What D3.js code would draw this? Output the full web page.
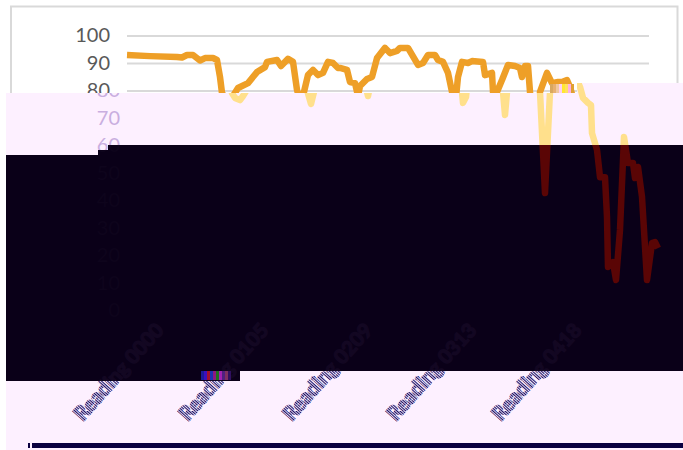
<!DOCTYPE html>
<html>
<head>
<meta charset="utf-8">
<title>Chart</title>
<script src="https://cdn.jsdelivr.net/npm/d3@7"></script>
<style>
	html, body { margin: 0; padding: 0; background: #fff; overflow: hidden; }
	svg { display: block; }
</style>
</head>
<body>
<svg id="svgChart" width="683" height="450"></svg>
<script>
// Reading number along the x axis and the value
var readings = [0, 23, 50, 55, 60, 66, 73, 78, 86, 90, 93, 95, 98, 103, 106, 111, 121, 130, 138, 140,
	150, 154, 161, 166, 170, 174, 177, 181, 186, 191, 196, 201, 206, 211, 213, 220, 223, 228, 231, 233,
	240, 245, 250, 258, 263, 270, 273, 281, 291, 296, 301, 308, 311, 316, 321, 325, 326, 329, 331, 335,
	341, 345, 356, 358, 365, 366, 368, 370, 375, 381, 388, 393, 395, 398, 401, 403, 408, 413, 420, 425,
	431, 435, 440, 443, 446, 451, 454, 455, 460, 463, 468, 470, 471, 476, 479, 483, 487, 491, 496, 498,
	501, 505, 510, 515, 518, 521];
var values = [92.9, 92.5, 92.2, 92, 92.9, 92.9, 90.9, 91.8, 91.8, 91.1, 84.9, 79.1, 77.3, 76.5, 78, 80.9, 82.7, 86.7, 88.5, 90.4,
	91.1, 88.9, 91.5, 90.4, 80.2, 75.1, 79.5, 85.6, 87.5, 85.6, 86.4, 90.4, 90, 88.2, 88.2, 87.5, 83.1, 82.7, 78, 81.6,
	84.2, 84.9, 91.8, 95.5, 93.6, 94.4, 95.5, 95.5, 89.3, 90, 92.9, 92.9, 91.1, 90.4, 86.4, 79.5, 75.5, 77.6, 84.9, 90.4,
	90, 90.7, 90.4, 85.6, 86.4, 79.5, 71.1, 79.5, 83.8, 89.3, 88.9, 88.2, 84.9, 88.9, 88.9, 79.5, 42.7, 79.5, 86.4, 82.7,
	83.1, 83.1, 83.8, 81.3, 77.3, 75.5, 74.7, 64.5, 58.4, 48.5, 48.5, 34, 15.8, 17.6, 11.1, 29.3, 63.1, 53.6, 53.6, 48.2,
	52.2, 41.3, 11.1, 24.5, 24.9, 22.7];

var yTicks = [0, 10, 20, 30, 40, 50, 60, 70, 80, 90, 100];
var xTicks = [0, 105, 209, 313, 418];
var xLabels = ["Reading 0000", "Reading 0105", "Reading 0209", "Reading 0313", "Reading 0418"];

// Colour stripes of the broken rows
var glitchColors = ["#1a1a9a", "#3a10c0", "#a01030", "#2030b0", "#901880", "#207020", "#a020b0", "#502080", "#803060", "#301060"];
var glitchWarm = ["#d8a860", "#e8b070", "#f0c8a0", "#ffd0f0", "#ffe830", "#ffe060", "#ffb0e0", "#e0a030"];

var chart = {};
chart.width = 683;
chart.height = 450;

chart.x = d3.scaleLinear().domain([0, 521]).range([127, 648]);
chart.y = d3.scaleLinear().domain([0, 100]).range([310.5, 35.5]);

// Draw the whole chart with one set of colours
chart.draw = (g, c) => {
	// Frame
	g.append("path")
		.attr("d", "M11," + chart.height + "V6.5H677.5V" + chart.height)
		.attr("fill", "none")
		.attr("stroke", c.frame)
		.attr("stroke-width", 2);

	// Y axis and gridlines
	let yAxis = d3.axisLeft(chart.y)
		.tickValues(yTicks)
		.tickSize(-522)
		.tickPadding(17);
	let gy = g.append("g")
		.attr("transform", "translate(127,0)")
		.call(yAxis);
	gy.select(".domain").remove();
	gy.selectAll("line").attr("stroke", c.grid).attr("stroke-width", 2);
	gy.selectAll("text")
		.attr("fill", c.text)
		.style("font-family", "Lato, sans-serif")
		.style("font-size", "20px");

	// X axis with rotated labels
	let xAxis = d3.axisBottom(chart.x)
		.tickValues(xTicks)
		.tickFormat((d, i) => xLabels[i])
		.tickSize(0);
	let gx = g.append("g")
		.attr("transform", "translate(0,322)")
		.call(xAxis);
	gx.select(".domain").remove();
	gx.selectAll("text")
		.attr("fill", c.label)
		.attr("stroke", c.label)
		.attr("stroke-width", 1.5)
		.attr("text-anchor", "end")
		.attr("dy", 0)
		.attr("transform", "translate(25,7) rotate(-48)")
		.style("font-family", "Lato, sans-serif")
		.style("font-weight", "bold")
		.style("font-size", "20px");

	// Series
	let line = d3.line()
		.x((d) => chart.x(d))
		.y((d, i) => chart.y(values[i]));
	g.append("path")
		.attr("d", line(readings))
		.attr("fill", "none")
		.attr("stroke", c.line)
		.attr("stroke-width", 6.5)
		.attr("stroke-linejoin", "round");
}

// Draw a band of the picture with its own colours, moved 10px right
chart.band = (svg, id, shape, background, c) => {
	svg.append("path").attr("d", shape).attr("fill", background);
	svg.append("clipPath").attr("id", id).append("path").attr("d", shape);
	let g = svg.append("g")
		.attr("clip-path", "url(#" + id + ")")
		.append("g")
		.attr("transform", "translate(10,0)");
	chart.draw(g, c);
}

chart.init = () => {
	let svg = d3.select("#svgChart");

	// Hatch used by the x labels
	let hatch = svg.append("defs").append("pattern")
		.attr("id", "hatch")
		.attr("patternUnits", "userSpaceOnUse")
		.attr("width", 2)
		.attr("height", 2);
	hatch.append("rect").attr("width", 1).attr("height", 2).attr("fill", "#1c1060");
	hatch.append("rect").attr("x", 1).attr("width", 1).attr("height", 2).attr("fill", "#e4daf2");

	svg.append("rect")
		.attr("width", chart.width)
		.attr("height", chart.height)
		.attr("fill", "#fff");

	// Normal part at the top
	chart.draw(svg.append("g"), {
		frame: "#d9d9d9", grid: "#d9d9d9", text: "#595959", label: "#595959", line: "#ee9f27"
	});

	// Pale band
	chart.band(svg, "clipPale", "M6,93H577V83H683V450H6Z", "#fdf0ff", {
		frame: "none", grid: "#fdf0ff", text: "#c9aee0", label: "url(#hatch)", line: "#ffe08c"
	});

	// Dark band
	chart.band(svg, "clipDark", "M6,155H98V150H108V145H683V371H240V381H6Z", "#0a0018", {
		frame: "none", grid: "#0a0018", text: "#0e041c", label: "#130722", line: "#5a0505"
	});

	// Bar near the bottom
	svg.append("rect")
		.attr("x", 32).attr("y", 443)
		.attr("width", 651).attr("height", 5)
		.attr("fill", "#0a0040");
	svg.append("rect")
		.attr("x", 28).attr("y", 443)
		.attr("width", 2).attr("height", 5)
		.attr("fill", "#0a0040");

	// Broken rows
	svg.selectAll(".glitch")
		.data(glitchColors)
		.enter()
		.append("rect")
		.attr("class", "glitch")
		.attr("x", (d, i) => 201 + i * 3)
		.attr("y", 371)
		.attr("width", 3)
		.attr("height", 9)
		.attr("fill", (d) => d);
	svg.selectAll(".glitchWarm")
		.data(glitchWarm)
		.enter()
		.append("rect")
		.attr("class", "glitchWarm")
		.attr("x", (d, i) => 550 + i * 3)
		.attr("y", 84)
		.attr("width", 3)
		.attr("height", 9)
		.attr("fill", (d) => d);
}

chart.init();
</script>
</body>
</html>
